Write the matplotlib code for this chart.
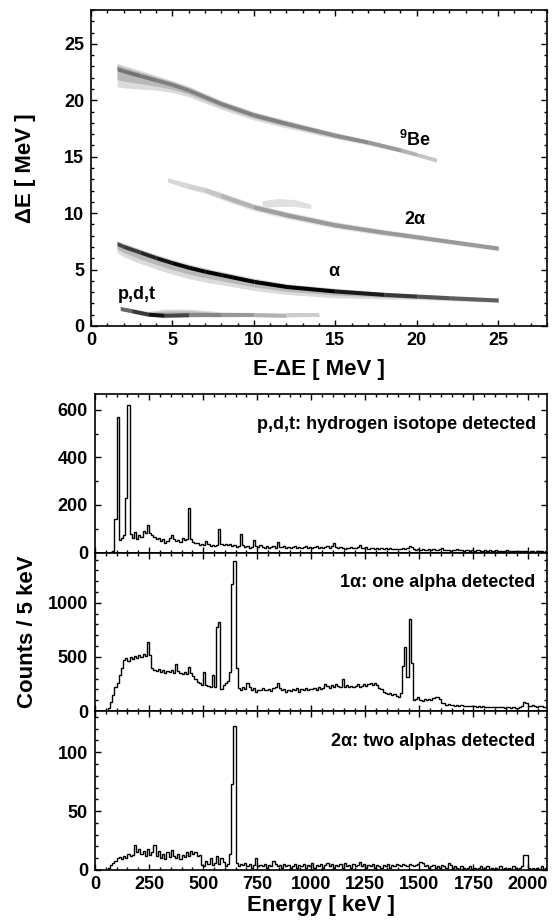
import numpy as np
import matplotlib
matplotlib.use("Agg")
import matplotlib.pyplot as plt
from matplotlib.ticker import MultipleLocator

plt.rcParams['font.family'] = ['Liberation Sans', 'DejaVu Sans']
plt.rcParams['font.weight'] = 'bold'
plt.rcParams['mathtext.fontset'] = 'custom'
plt.rcParams['mathtext.rm'] = 'Liberation Sans:bold'
plt.rcParams['mathtext.bf'] = 'Liberation Sans:bold'
plt.rcParams['mathtext.default'] = 'bf'

# ---------------- top panel: dE vs E-dE bands ----------------
be_x = [1.6, 2, 3, 4, 5, 6, 8, 10, 12, 14, 15, 17, 19, 20, 21.2]
be_y = [22.8, 22.6, 22.2, 21.8, 21.4, 20.9, 19.7, 18.7, 17.95, 17.25, 16.9, 16.3, 15.6, 15.2, 14.7]
be_up = [0.5, 0.5, 0.45, 0.4, 0.35, 0.35, 0.3, 0.3, 0.3, 0.25, 0.25, 0.2, 0.2, 0.15, 0.1]
be_lo = [1.6, 1.5, 1.2, 0.9, 0.7, 0.6, 0.5, 0.45, 0.4, 0.35, 0.3, 0.25, 0.2, 0.15, 0.1]
be_gray = [0.45, 0.45, 0.45, 0.5, 0.5, 0.5, 0.5, 0.5, 0.5, 0.55, 0.55, 0.55, 0.65, 0.75, 0.8]

a2_x = [4.7, 6, 7, 8, 10, 12, 15, 18, 20, 22, 25]
a2_y = [12.95, 12.4, 12.05, 11.55, 10.55, 9.85, 8.95, 8.3, 7.9, 7.5, 6.9]
a2_up = [0.2, 0.25, 0.25, 0.3, 0.3, 0.3, 0.3, 0.25, 0.25, 0.2, 0.2]
a2_lo = [0.2, 0.3, 0.3, 0.35, 0.35, 0.35, 0.3, 0.3, 0.25, 0.25, 0.25]
a2_gray = [0.85, 0.85, 0.8, 0.75, 0.65, 0.6, 0.6, 0.6, 0.6, 0.6, 0.6]

al_x = [1.6, 2, 3, 4, 5, 6, 7, 8, 10, 12, 15, 18, 20, 22, 25]
al_y = [7.3, 7.05, 6.55, 6.05, 5.6, 5.2, 4.85, 4.55, 3.95, 3.5, 3.1, 2.8, 2.65, 2.5, 2.3]
al_up = [0.25, 0.3, 0.3, 0.3, 0.3, 0.3, 0.3, 0.3, 0.3, 0.25, 0.25, 0.2, 0.2, 0.2, 0.2]
al_lo = [0.8, 0.9, 1.0, 1.0, 1.0, 1.0, 0.95, 0.9, 0.8, 0.7, 0.6, 0.4, 0.3, 0.25, 0.2]
al_gray = [0.3, 0.25, 0.2, 0.1, 0.05, 0.0, 0.0, 0.0, 0.0, 0.0, 0.05, 0.15, 0.3, 0.35, 0.4]

pd_x = [1.8, 2.5, 3.5, 4.5, 6, 8, 10, 12, 14]
pd_y = [1.55, 1.35, 1.05, 0.95, 1.0, 1.0, 1.0, 0.95, 0.95]
pd_up = [0.15, 0.2, 0.25, 0.55, 0.5, 0.25, 0.2, 0.15, 0.1]
pd_lo = [0.15, 0.2, 0.2, 0.15, 0.2, 0.2, 0.15, 0.15, 0.1]
pd_gray = [0.45, 0.35, 0.1, 0.05, 0.5, 0.55, 0.65, 0.75, 0.85]

blob_x = [10.5, 11.5, 12.5, 13.5]
blob_lo = [10.5, 10.6, 10.6, 10.4]
blob_hi = [11.1, 11.3, 11.2, 10.8]

band_labels = [(19.9, 16.5, r'$^{9}$Be'), (19.9, 9.4, '2α'), (14.9, 4.8, 'α'), (2.8, 2.75, 'p,d,t')]

# ---------------- bottom panels: energy spectra (counts / bin) ----------------
bin_edges = list(range(0, 2110, 10))

pdt_counts = [
    0, 0, 0, 0, 0, 0, 0, 1, 8, 142,
    570, 52, 60, 75, 231, 621, 78, 62, 85, 58,
    72, 66, 90, 82, 117, 80, 74, 66, 58, 60,
    48, 55, 42, 50, 62, 72, 58, 48, 52, 45,
    60, 52, 55, 189, 56, 44, 38, 40, 33, 36,
    30, 49, 35, 28, 32, 26, 30, 97, 34, 30,
    36, 32, 34, 28, 30, 24, 27, 76, 30, 22,
    26, 20, 25, 51, 28, 22, 30, 24, 20, 26,
    18, 24, 28, 20, 44, 25, 22, 28, 20, 24,
    18, 22, 26, 20, 24, 18, 22, 28, 20, 24,
    18, 22, 26, 20, 24, 19, 22, 26, 20, 28,
    41, 24, 18, 22, 20, 16, 20, 18, 22, 17,
    20, 24, 32, 20, 18, 22, 16, 20, 17, 15,
    18, 16, 20, 14, 17, 15, 18, 14, 16, 13,
    16, 14, 18, 15, 20, 28, 22, 14, 12, 15,
    11, 13, 10, 12, 14, 11, 13, 10, 12, 14,
    17, 12, 9, 11, 8, 12, 10, 13, 9, 11,
    8, 10, 12, 8, 10, 7, 9, 11, 8, 6,
    9, 7, 10, 6, 8, 9, 5, 7, 8, 6,
    9, 5, 7, 6, 8, 5, 7, 6, 5, 8,
    4, 6, 7, 4, 6, 5, 7, 4, 5, 6]

one_alpha_counts = [
    0, 0, 0, 0, 0, 0, 30, 80, 150, 220,
    256, 330, 400, 470, 488, 460, 495, 480, 510, 490,
    515, 500, 530, 505, 636, 520, 395, 380, 370, 385,
    360, 375, 350, 370, 360, 380, 355, 435, 370, 355,
    345, 360, 340, 405, 350, 320, 300, 271, 260, 240,
    358, 240, 235, 225, 330, 220, 780, 818, 200, 240,
    260, 280, 358, 1173, 1382, 400, 210, 190, 220, 200,
    262, 220, 195, 210, 180, 195, 190, 210, 195, 194,
    200, 185, 210, 220, 256, 215, 190, 200, 180, 195,
    185, 205, 190, 210, 180, 200, 190, 215, 195, 205,
    200, 215, 195, 225, 205, 210, 245, 230, 215, 240,
    225, 250, 230, 220, 293, 225, 240, 220, 235, 225,
    230, 245, 220, 235, 250, 230, 245, 255, 240, 262,
    240, 215, 200, 180, 165, 155, 170, 150, 160, 140,
    130, 170, 420, 590, 310, 849, 444, 102, 110, 130,
    105, 95, 110, 100, 115, 105, 120, 125, 130, 110,
    75, 70, 60, 65, 55, 58, 50, 55, 48, 52,
    45, 50, 44, 48, 42, 46, 40, 44, 38, 42,
    40, 36, 40, 35, 38, 34, 37, 33, 36, 32,
    35, 33, 30, 34, 32, 30, 35, 50, 80, 70,
    50, 45, 55, 45, 40, 50, 45, 40, 35, 38]

two_alpha_counts = [
    0, 0, 0, 0, 0, 0, 2, 4, 6, 8,
    10, 11, 9, 12, 10, 14, 12, 13, 21, 15,
    18, 14, 16, 12, 18, 13, 15, 21, 12, 16,
    10, 14, 9, 15, 11, 17, 12, 10, 14, 9,
    13, 11, 15, 12, 16, 14, 15, 12, 13, 4,
    3, 8, 5, 10, 4, 6, 12, 5, 10, 7,
    3, 5, 14, 73, 122, 6, 3, 5, 4, 6,
    3, 5, 2, 4, 10, 3, 4, 3, 5, 2,
    4, 3, 8, 5, 3, 4, 2, 5, 3, 4,
    2, 3, 5, 2, 4, 3, 5, 2, 4, 3,
    6, 2, 4, 3, 5, 2, 4, 6, 3, 5,
    2, 4, 3, 5, 2, 6, 3, 4, 2, 5,
    3, 4, 7, 3, 5, 2, 4, 3, 5, 2,
    4, 3, 2, 4, 3, 5, 2, 4, 3, 5,
    4, 3, 5, 4, 3, 5, 4, 3, 4, 5,
    7, 6, 3, 4, 2, 3, 4, 2, 3, 2,
    4, 3, 2, 6, 4, 2, 3, 2, 1, 3,
    2, 1, 2, 3, 1, 2, 1, 2, 3, 1,
    2, 3, 1, 2, 1, 2, 1, 3, 1, 2,
    1, 2, 1, 3, 2, 1, 2, 3, 13, 13,
    2, 1, 2, 1, 2, 1, 3, 1, 2, 1]

panel_texts = ['p,d,t: hydrogen isotope detected', '1α: one alpha detected', '2α: two alphas detected']
panel_ylims = [667, 1465, 135]
panel_major = [200, 500, 50]
panel_minor = [100, 100, 10]

# ---------------- figure ----------------
W, H = 557, 923
fig = plt.figure(figsize=(W / 100, H / 100), dpi=100)

def frac(l, t, r, b):
    return [l / W, 1 - b / H, (r - l) / W, (b - t) / H]

def style(ax, xlabsize, ylabsize):
    for s in ax.spines.values():
        s.set_linewidth(1.2)
    ax.tick_params(which='both', direction='in', top=True, right=True, width=1.0)
    ax.tick_params(which='major', length=4.0)
    ax.tick_params(which='minor', length=2.3)
    ax.tick_params(axis='x', labelsize=xlabsize, pad=4)
    ax.tick_params(axis='y', labelsize=ylabsize, pad=5)

ax0 = fig.add_axes(frac(91, 10, 547, 326))

def band(ax, x, y, up, lo, gray, halo='0.86'):
    x = np.asarray(x, float); y = np.asarray(y, float)
    up = np.asarray(up, float); lo = np.asarray(lo, float)
    ax.fill_between(x, y - lo, y + up, color=halo, lw=0)
    ax.fill_between(x, y - 0.6 * lo, y + 0.7 * up, color='0.72', lw=0)
    for i in range(len(x) - 1):
        g = 0.5 * (gray[i] + gray[i + 1])
        ax.fill_between([x[i], x[i + 1]], [y[i] - 0.18, y[i + 1] - 0.18],
                        [y[i] + 0.18, y[i + 1] + 0.18], color=str(g), lw=0)

ax0.fill_between(blob_x, blob_lo, blob_hi, color='0.88', lw=0)
band(ax0, be_x, be_y, be_up, be_lo, be_gray)
band(ax0, a2_x, a2_y, a2_up, a2_lo, a2_gray, halo='0.9')
band(ax0, al_x, al_y, al_up, al_lo, al_gray)
band(ax0, pd_x, pd_y, pd_up, pd_lo, pd_gray)
for bx, by, bt in band_labels:
    ax0.text(bx, by, bt, ha='center', va='center', fontsize=13, fontweight='bold')

ax0.set_xlim(0, 28)
ax0.set_ylim(0, 28)
ax0.xaxis.set_major_locator(MultipleLocator(5))
ax0.xaxis.set_minor_locator(MultipleLocator(1))
ax0.yaxis.set_major_locator(MultipleLocator(5))
ax0.yaxis.set_minor_locator(MultipleLocator(1))
style(ax0, 13, 13)
fig.text(26 / W, 1 - 168 / H, 'ΔE [ MeV ]', rotation=90, ha='center', va='center', fontsize=16, fontweight='bold')
fig.text(319 / W, 1 - 369 / H, 'E-ΔE [ MeV ]', ha='center', va='center', fontsize=16, fontweight='bold')

spectra = [pdt_counts, one_alpha_counts, two_alpha_counts]
tops = [394, 552.5, 711]
bots = [552.5, 711, 870]
for i in range(3):
    ax = fig.add_axes(frac(95, tops[i], 547, bots[i]))
    ax.stairs(spectra[i], bin_edges, color='k', lw=1.0)
    ax.set_xlim(0, 2090)
    ax.set_ylim(0, panel_ylims[i])
    ax.xaxis.set_major_locator(MultipleLocator(250))
    ax.xaxis.set_minor_locator(MultipleLocator(50))
    ax.yaxis.set_major_locator(MultipleLocator(panel_major[i]))
    ax.yaxis.set_minor_locator(MultipleLocator(panel_minor[i]))
    style(ax, 13, 13)
    if i < 2:
        ax.tick_params(labelbottom=False)
    ax.text(0.975, 0.81, panel_texts[i], transform=ax.transAxes, ha='right', va='center',
            fontsize=13, fontweight='bold')

fig.text(28 / W, 1 - 632 / H, 'Counts / 5 keV', rotation=90, ha='center', va='center', fontsize=16, fontweight='bold')
fig.text(321 / W, 1 - 906 / H, 'Energy [ keV ]', ha='center', va='center', fontsize=16, fontweight='bold')

fig.savefig('out.png', dpi=100)
